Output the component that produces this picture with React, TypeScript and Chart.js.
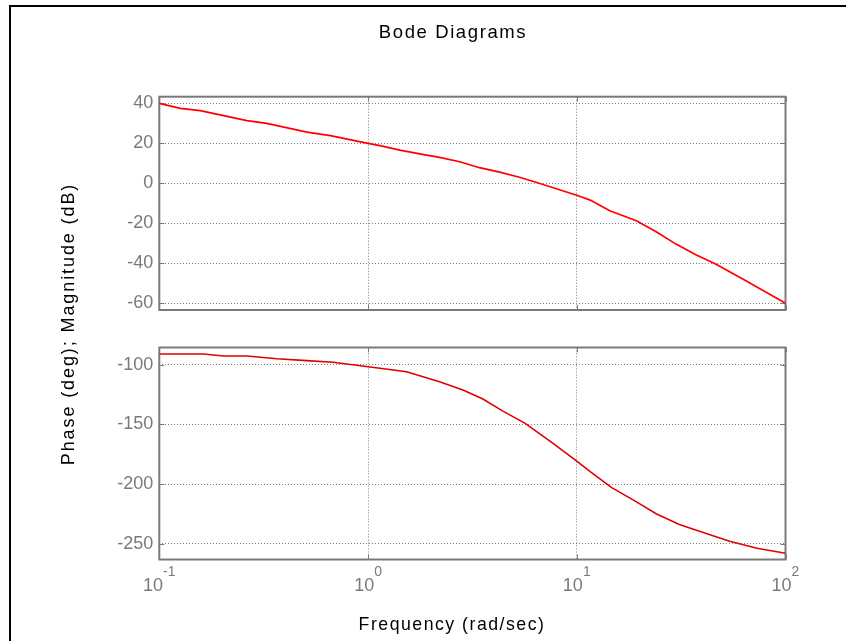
import React, { useEffect, useRef } from "react";
import { Chart, registerables } from "chart.js";

Chart.register(...registerables);

// ---- data ----
const magFreq = [0.1, 0.126, 0.157, 0.263, 0.327, 0.51, 0.66, 1, 1.14, 1.42, 1.77, 2.2, 2.75, 3.42, 4.27, 5.32, 6.6, 10, 11.6, 14.4, 19.3, 24, 29.9, 37.2, 46.5, 64.6, 100];
const magDb = [40, 37.5, 36.3, 31.3, 30, 25.6, 23.8, 20, 18.8, 16.6, 14.7, 13, 10.8, 7.8, 5.6, 3, 0, -6, -8.4, -13.7, -18.7, -24.2, -30.4, -35.7, -40.5, -48.7, -60];

const phaseFreq = [0.1, 0.163, 0.203, 0.263, 0.366, 0.51, 0.68, 1, 1.14, 1.53, 2.2, 2.85, 3.55, 4.43, 5.66, 7.7, 10, 11.6, 14.7, 18.8, 24, 31, 40, 54, 73, 100];
const phaseDeg = [-91, -91, -92.7, -92.7, -95, -96.6, -98, -101.7, -103, -105.9, -114.3, -121.3, -128.8, -138.9, -149.2, -166, -180.7, -189.6, -203, -213.7, -224.9, -233.9, -240.3, -247.9, -253.8, -258];

const decadeTicks = [0.1, 1, 10, 100];
const decadeExponents = ["-1", "0", "1", "2"];
const magTicks = [40, 20, 0, -20, -40, -60];
const phaseTicks = [-100, -150, -200, -250];

const titleText = "Bode Diagrams";
const xLabelText = "Frequency (rad/sec)";
const yLabelText = "Phase (deg); Magnitude (dB)";

// ---- style ----
const W = 846;
const H = 641;
const FONT = '"Liberation Sans", Arial, Helvetica, sans-serif';
const GREY = "#7a7a7a";
const GRID = "#7a7a7a";

function framePlugin(yTicks: number[]) {
  return {
    id: "frame",
    beforeDatasetsDraw(chart: any) {
      const { ctx, chartArea } = chart;
      const { left, top, right, bottom } = chartArea;
      const xs = chart.scales.x;
      const ys = chart.scales.y;
      ctx.save();
      ctx.strokeStyle = GREY;
      ctx.lineWidth = 1;
      ctx.beginPath();
      yTicks.forEach((v) => {
        const py = Math.round(ys.getPixelForValue(v)) + 0.5;
        ctx.moveTo(left, py);
        ctx.lineTo(left + 5, py);
        ctx.moveTo(right, py);
        ctx.lineTo(right - 5, py);
      });
      decadeTicks.forEach((v) => {
        const px = Math.round(xs.getPixelForValue(v)) + 0.5;
        ctx.moveTo(px, top);
        ctx.lineTo(px, top + 5);
        ctx.moveTo(px, bottom);
        ctx.lineTo(px, bottom - 5);
      });
      ctx.stroke();
      ctx.lineWidth = 2;
      ctx.strokeRect(left, top, right - left, bottom - top);
      ctx.restore();
    },
  };
}

const textPlugin = {
  id: "texts",
  afterDraw(chart: any) {
    const { ctx } = chart;
    const xs = chart.scales.x;
    ctx.save();
    // outer black frame (left and top edges visible)
    ctx.fillStyle = "#000";
    ctx.fillRect(9, 5, W - 9, 2);
    ctx.fillRect(9, 5, 2, H - 5);

    // x tick labels with superscript exponents
    ctx.fillStyle = GREY;
    ctx.textBaseline = "alphabetic";
    ctx.textAlign = "left";
    decadeTicks.forEach((v, i) => {
      const px = xs.getPixelForValue(v);
      ctx.font = `18px ${FONT}`;
      const bw = ctx.measureText("10").width;
      ctx.font = `14px ${FONT}`;
      const ew = ctx.measureText(decadeExponents[i]).width;
      const start = px - (bw + ew) / 2;
      ctx.font = `18px ${FONT}`;
      ctx.fillText("10", start, 591);
      ctx.font = `14px ${FONT}`;
      ctx.fillText(decadeExponents[i], start + bw, 576);
    });

    // title and axis labels
    ctx.fillStyle = "#000";
    ctx.textAlign = "center";
    (ctx as any).letterSpacing = "1.6px";
    ctx.font = `18.5px ${FONT}`;
    ctx.fillText(titleText, 453, 38);
    (ctx as any).letterSpacing = "1.5px";
    ctx.font = `17.7px ${FONT}`;
    ctx.fillText(xLabelText, 452, 629.5);
    (ctx as any).letterSpacing = "1.9px";
    ctx.font = `18px ${FONT}`;
    ctx.translate(74, 324);
    ctx.rotate(-Math.PI / 2);
    ctx.fillText(yLabelText, 0, 0);
    ctx.restore();
  },
};

function makeOptions(yMin: number, yMax: number, yTicks: number[], padTop: number, padBottom: number) {
  return {
    responsive: false,
    maintainAspectRatio: false,
    animation: false as const,
    events: [] as any[],
    layout: { padding: { left: 0, top: padTop, right: 60.5, bottom: padBottom } },
    plugins: { legend: { display: false }, tooltip: { enabled: false }, title: { display: false } },
    scales: {
      x: {
        type: "logarithmic" as const,
        min: 0.1,
        max: 100,
        afterBuildTicks: (s: any) => {
          s.ticks = decadeTicks.map((v) => ({ value: v, major: true }));
        },
        afterFit: (s: any) => {
          s.height = 0;
        },
        ticks: { display: false },
        grid: { color: GRID, lineWidth: 1, drawTicks: false },
        border: { display: false, dash: [1, 2] },
      },
      y: {
        type: "linear" as const,
        min: yMin,
        max: yMax,
        afterBuildTicks: (s: any) => {
          s.ticks = yTicks.map((v) => ({ value: v }));
        },
        afterFit: (s: any) => {
          s.width = 159.3;
        },
        ticks: {
          color: GREY,
          font: { family: FONT, size: 18 },
          padding: 6,
          callback: (v: any) => String(v),
        },
        grid: { color: GRID, lineWidth: 1, drawTicks: false },
        border: { display: false, dash: [1, 2] },
      },
    },
  };
}

export default function App() {
  const magRef = useRef<HTMLCanvasElement>(null);
  const phaseRef = useRef<HTMLCanvasElement>(null);

  useEffect(() => {
    const magChart = new Chart(magRef.current as HTMLCanvasElement, {
      type: "line",
      data: {
        datasets: [
          {
            data: magFreq.map((f, i) => ({ x: f, y: magDb[i] })),
            borderColor: "#ff0000",
            borderWidth: 1.7,
            pointRadius: 0,
            tension: 0,
          },
        ],
      },
      options: makeOptions(-63.35, 43.3, magTicks, 96.7, H - 310) as any,
      plugins: [framePlugin(magTicks)],
    });
    const phaseChart = new Chart(phaseRef.current as HTMLCanvasElement, {
      type: "line",
      data: {
        datasets: [
          {
            data: phaseFreq.map((f, i) => ({ x: f, y: phaseDeg[i] })),
            borderColor: "#e00000",
            borderWidth: 1.6,
            pointRadius: 0,
            tension: 0,
          },
        ],
      },
      options: makeOptions(-263.2, -85.6, phaseTicks, 347.5, H - 559.5) as any,
      plugins: [framePlugin(phaseTicks), textPlugin],
    });
    return () => {
      magChart.destroy();
      phaseChart.destroy();
    };
  }, []);

  return (
    <div style={{ position: "absolute", left: 0, top: 0, width: W, height: H, background: "#fff", overflow: "hidden" }}>
      <canvas ref={magRef} width={W} height={H} style={{ position: "absolute", left: 0, top: 0 }} />
      <canvas ref={phaseRef} width={W} height={H} style={{ position: "absolute", left: 0, top: 0 }} />
    </div>
  );
}
